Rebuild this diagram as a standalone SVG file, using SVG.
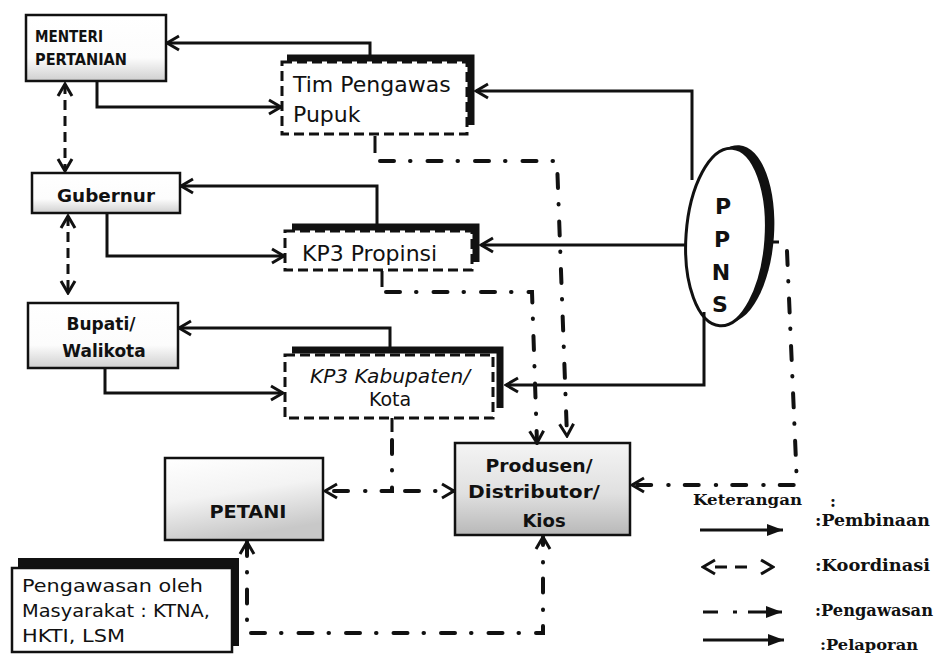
<svg xmlns="http://www.w3.org/2000/svg" width="947" height="656" viewBox="0 0 947 656">
<style>
.box{stroke:#111;stroke-width:2.5}
.dbox{fill:#fff;stroke:#111;stroke-width:3;stroke-dasharray:10 5}
.thick{fill:none;stroke:#111;stroke-width:7;stroke-linejoin:miter}
.solid{fill:none;stroke:#111;stroke-width:3}
.coord{fill:none;stroke:#111;stroke-width:3;stroke-dasharray:10 6}
.dd{fill:none;stroke:#111;stroke-width:4;stroke-dasharray:14 16 0.5 17;stroke-linecap:round}
.lb{font-family:"DejaVu Sans","Liberation Sans",sans-serif;font-weight:bold;fill:#111}
.lr{font-family:"DejaVu Sans","Liberation Sans",sans-serif;fill:#111}
.leg{font-family:"DejaVu Serif","Liberation Serif",serif;font-weight:bold;fill:#111}
</style>
<defs>
<marker id="open" viewBox="0 0 16 18" refX="14" refY="9" markerWidth="16" markerHeight="18" markerUnits="userSpaceOnUse" orient="auto-start-reverse">
<path d="M2,2 L14,9 L2,16" fill="none" stroke="#111" stroke-width="3"/>
</marker>
<marker id="fill" viewBox="0 0 16 12" refX="16" refY="6" markerWidth="16" markerHeight="12" markerUnits="userSpaceOnUse" orient="auto-start-reverse">
<path d="M0,0 L16,6 L0,12 z" fill="#111"/>
</marker>
<linearGradient id="gLow" x1="0" y1="0" x2="0" y2="1">
<stop offset="0" stop-color="#fff"/><stop offset="0.65" stop-color="#fcfcfc"/><stop offset="1" stop-color="#cfcfcf"/>
</linearGradient>
<linearGradient id="gPet" x1="0" y1="0" x2="0.3" y2="1">
<stop offset="0" stop-color="#fff"/><stop offset="0.5" stop-color="#f3f3f3"/><stop offset="1" stop-color="#c8c8c8"/>
</linearGradient>
<linearGradient id="gProd" x1="0" y1="0" x2="0" y2="1">
<stop offset="0" stop-color="#f4f4f4"/><stop offset="0.55" stop-color="#e0e0e0"/><stop offset="1" stop-color="#b8b8b8"/>
</linearGradient>
</defs>
<rect width="947" height="656" fill="#fff"/>

<g id="menteri">
<rect class="box" x="26" y="15" width="140" height="66" fill="url(#gLow)"/>
<text class="lb" x="35" y="42" font-size="16" textLength="68" lengthAdjust="spacingAndGlyphs">MENTERI</text>
<text class="lb" x="35" y="65" font-size="16" textLength="92" lengthAdjust="spacingAndGlyphs">PERTANIAN</text>
</g>

<g id="gubernur">
<rect class="box" x="32" y="173" width="148" height="40" fill="url(#gLow)"/>
<text class="lb" x="106" y="202" font-size="18" text-anchor="middle" textLength="98" lengthAdjust="spacingAndGlyphs">Gubernur</text>
</g>

<g id="bupati">
<rect class="box" x="28" y="303" width="150" height="65" fill="url(#gLow)"/>
<text class="lb" x="101" y="330" font-size="17" text-anchor="middle">Bupati/</text>
<text class="lb" x="104" y="357" font-size="17" text-anchor="middle">Walikota</text>
</g>

<g id="tim">
<rect class="dbox" x="282" y="62" width="185" height="72"/>
<path class="thick" d="M287,58 H471 V125"/>
<text class="lr" x="293" y="92" font-size="22">Tim Pengawas</text>
<text class="lr" x="293" y="122" font-size="22">Pupuk</text>
</g>

<g id="kp3prop">
<rect class="dbox" x="285" y="231" width="187" height="39"/>
<path class="thick" d="M292,227 H476 V262"/>
<text class="lr" x="302" y="261" font-size="22">KP3 Propinsi</text>
</g>

<g id="kp3kab">
<rect class="dbox" x="285" y="355" width="208" height="63"/>
<path class="thick" d="M292,350 H500 V408"/>
<text class="lr" x="390" y="383" font-size="19" font-style="italic" text-anchor="middle" textLength="160" lengthAdjust="spacingAndGlyphs">KP3 Kabupaten/</text>
<text class="lr" x="390" y="406" font-size="19" text-anchor="middle">Kota</text>
</g>

<g id="ppns">
<ellipse cx="733" cy="234" rx="41" ry="89" fill="#111" transform="rotate(4 733 234)"/>
<ellipse cx="726" cy="237" rx="40" ry="89" fill="#fff" stroke="#111" stroke-width="3" transform="rotate(4 726 237)"/>
<text class="lb" x="723" y="214" font-size="22" text-anchor="middle">P</text>
<text class="lb" x="722" y="247" font-size="22" text-anchor="middle">P</text>
<text class="lb" x="721" y="280" font-size="22" text-anchor="middle">N</text>
<text class="lb" x="720" y="312" font-size="22" text-anchor="middle">S</text>
</g>

<g id="petani">
<rect class="box" x="165" y="458" width="158" height="82" fill="url(#gPet)"/>
<text class="lb" x="248" y="518" font-size="18" text-anchor="middle" textLength="77" lengthAdjust="spacingAndGlyphs">PETANI</text>
</g>

<g id="produsen">
<rect class="box" x="455" y="443" width="175" height="92" fill="url(#gProd)"/>
<text class="lb" x="539" y="472" font-size="18" text-anchor="middle" textLength="107" lengthAdjust="spacingAndGlyphs">Produsen/</text>
<text class="lb" x="534" y="498" font-size="18" text-anchor="middle" textLength="132" lengthAdjust="spacingAndGlyphs">Distributor/</text>
<text class="lb" x="544" y="527" font-size="18" text-anchor="middle">Kios</text>
</g>

<g id="masyarakat">
<rect x="18" y="558" width="221" height="88" fill="#111"/>
<rect class="box" x="12" y="568" width="220" height="84" fill="#fff"/>
<text class="lr" x="22" y="592" font-size="18" textLength="181" lengthAdjust="spacingAndGlyphs">Pengawasan oleh</text>
<text class="lr" x="22" y="617" font-size="18" textLength="188" lengthAdjust="spacingAndGlyphs">Masyarakat : KTNA,</text>
<text class="lr" x="22" y="642" font-size="18" textLength="103" lengthAdjust="spacingAndGlyphs">HKTI, LSM</text>
</g>

<g id="connectors">
<path class="solid" d="M97,81 V107 H281" marker-end="url(#open)"/>
<path class="solid" d="M107,213 V256 H284" marker-end="url(#open)"/>
<path class="solid" d="M105,368 V393 H283" marker-end="url(#open)"/>
<path class="solid" d="M370,58 V43 H167" marker-end="url(#open)"/>
<path class="solid" d="M377,226 V186 H181" marker-end="url(#open)"/>
<path class="solid" d="M390,350 V328 H179" marker-end="url(#open)"/>
<path class="solid" d="M692,180 V91 H476" marker-end="url(#open)"/>
<path class="solid" d="M686,245 H481" marker-end="url(#open)"/>
<path class="solid" d="M704,312 V385 H506" marker-end="url(#open)"/>
<path class="coord" d="M65,84 V171" marker-start="url(#open)" marker-end="url(#open)"/>
<path class="coord" d="M68,216 V293" marker-start="url(#open)" marker-end="url(#open)"/>
<path class="solid" d="M375,136 V153"/>
<path class="dd" d="M380,161 H557 L567,436" marker-end="url(#open)"/>
<path class="solid" d="M382,271 V287"/>
<path class="dd" d="M386,292 H532 L537,443" marker-end="url(#open)"/>
<path class="solid" d="M392,418 V432"/>
<path class="dd" d="M392,440 V491 H325" marker-end="url(#open)"/>
<path class="dd" d="M405,491 H454" marker-end="url(#open)"/>
<path class="solid" d="M767,242 H779"/>
<path class="dd" d="M787,251 L797,485 H632" marker-end="url(#open)"/>
<path class="dd" d="M247,542 V633 H543 V537" marker-start="url(#open)" marker-end="url(#open)"/>
</g>

<g id="legend">
<text class="leg" x="693" y="505" font-size="14" textLength="109" lengthAdjust="spacingAndGlyphs">Keterangan</text>
<text class="leg" x="830" y="507" font-size="16">:</text>
<path class="solid" d="M700,530 H783" marker-end="url(#fill)"/>
<text class="leg" x="815" y="526" font-size="16" textLength="115" lengthAdjust="spacingAndGlyphs">:Pembinaan</text>
<path class="solid" d="M703,567 H773" stroke-dasharray="0 12 12 8 12 30" marker-start="url(#open)" marker-end="url(#open)"/>
<text class="leg" x="815" y="571" font-size="16" textLength="115" lengthAdjust="spacingAndGlyphs">:Koordinasi</text>
<path class="solid" d="M703,612 H718 M733,612 H737 M748,612 H782" stroke-width="4" marker-end="url(#fill)"/>
<text class="leg" x="815" y="616" font-size="16" textLength="118" lengthAdjust="spacingAndGlyphs">:Pengawasan</text>
<path class="solid" d="M703,640 H784" marker-end="url(#fill)"/>
<text class="leg" x="820" y="650" font-size="15" textLength="98" lengthAdjust="spacingAndGlyphs">:Pelaporan</text>
</g>
</svg>
